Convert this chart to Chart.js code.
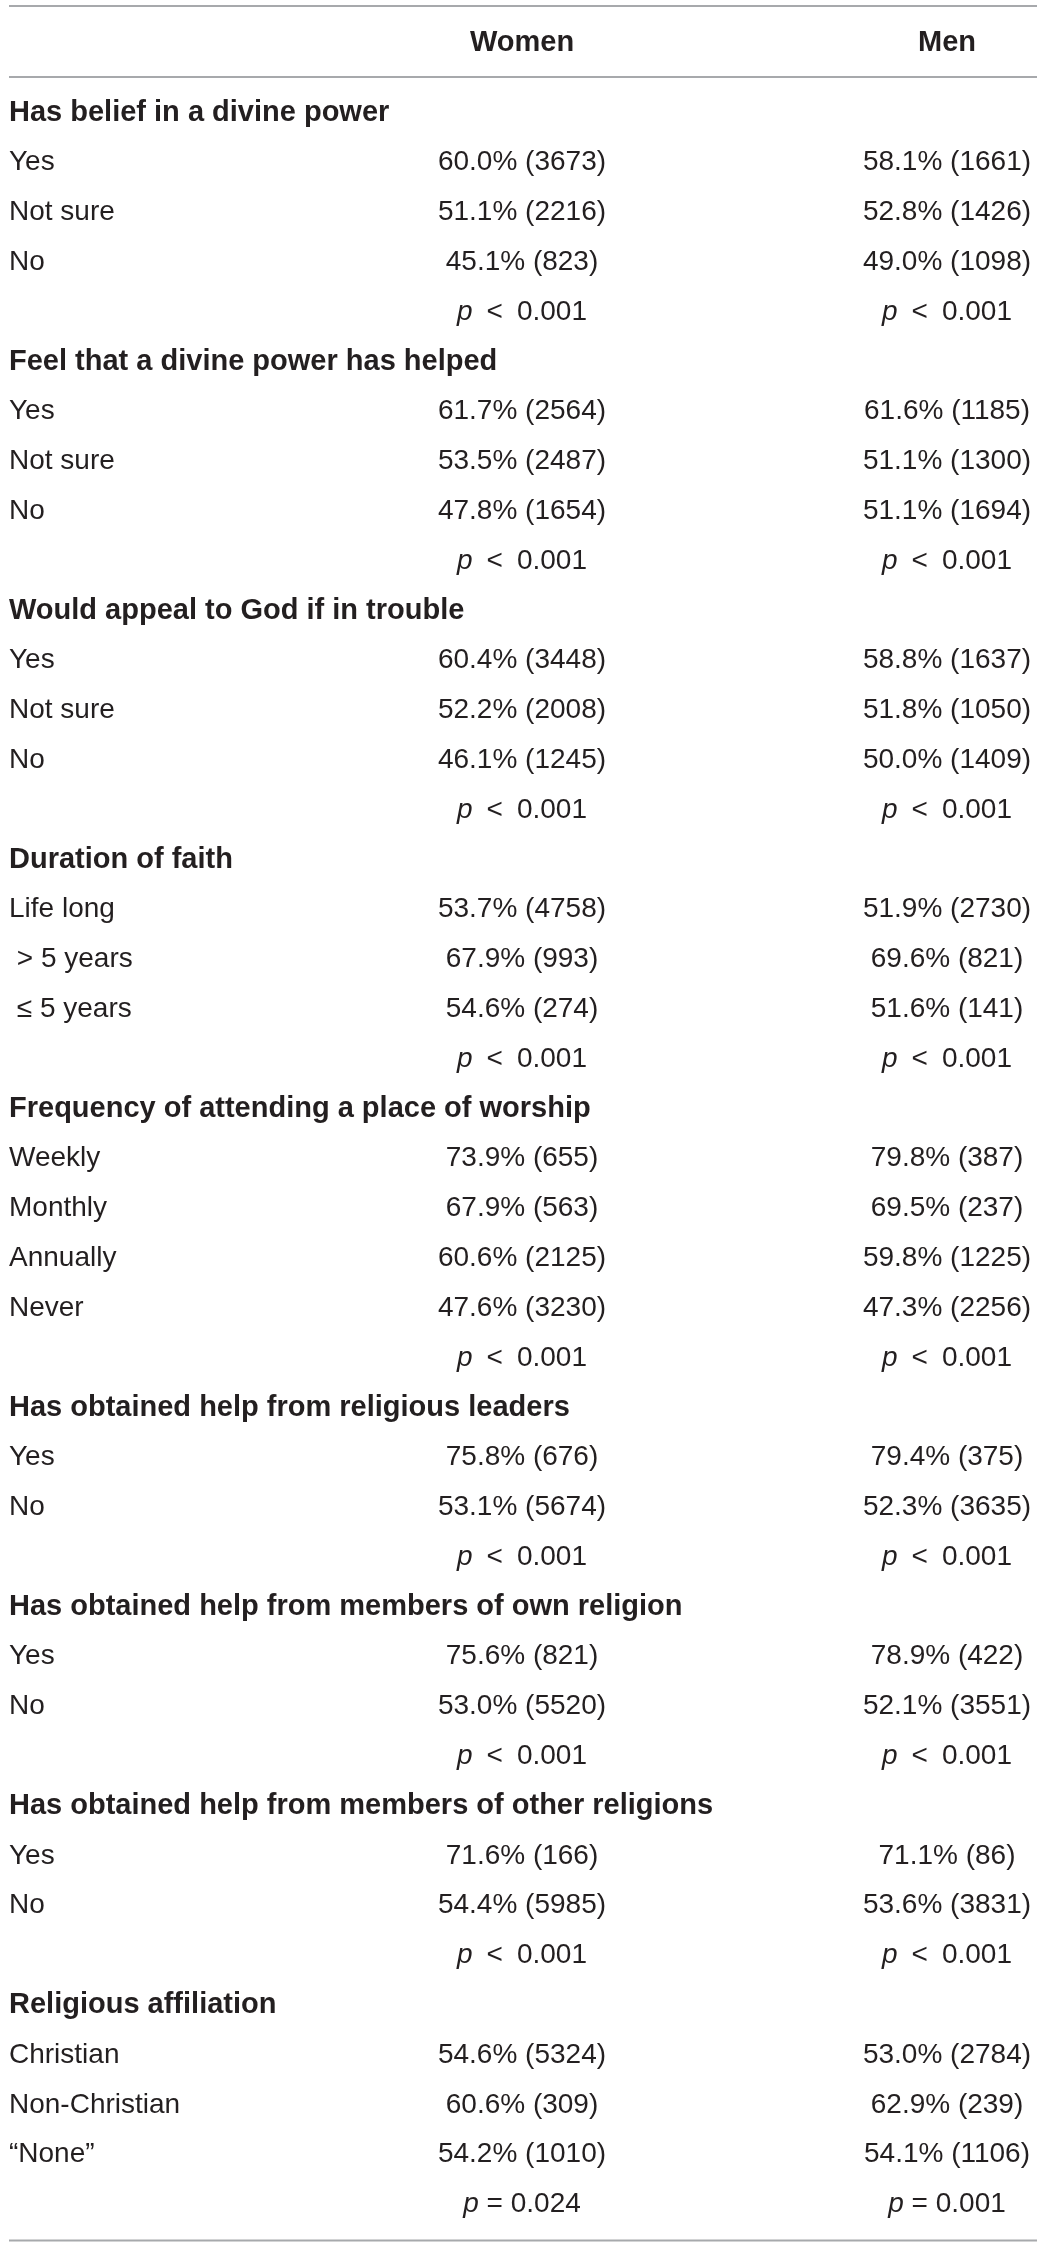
<!DOCTYPE html>
<html>
<head>
<meta charset="utf-8">
<script src="https://cdn.jsdelivr.net/npm/chart.js@4.4.1/dist/chart.umd.min.js"></script>
<style>
  html, body { margin: 0; padding: 0; background: #fff; }
  #wrap { width: 1043px; height: 2246px; position: relative; }
</style>
</head>
<body>
<div id="wrap"><canvas id="tableChart"></canvas></div>
<script>
const columns = ['Women', 'Men'];

const sections = [
  'Has belief in a divine power',
  'Feel that a divine power has helped',
  'Would appeal to God if in trouble',
  'Duration of faith',
  'Frequency of attending a place of worship',
  'Has obtained help from religious leaders',
  'Has obtained help from members of own religion',
  'Has obtained help from members of other religions',
  'Religious affiliation'
];

const categories = [
  ['Yes', 'Not sure', 'No'],
  ['Yes', 'Not sure', 'No'],
  ['Yes', 'Not sure', 'No'],
  ['Life long', ' > 5 years', ' \u2264 5 years'],
  ['Weekly', 'Monthly', 'Annually', 'Never'],
  ['Yes', 'No'],
  ['Yes', 'No'],
  ['Yes', 'No'],
  ['Christian', 'Non-Christian', '\u201CNone\u201D']
];

const womenPct = [
  [60.0, 51.1, 45.1],
  [61.7, 53.5, 47.8],
  [60.4, 52.2, 46.1],
  [53.7, 67.9, 54.6],
  [73.9, 67.9, 60.6, 47.6],
  [75.8, 53.1],
  [75.6, 53.0],
  [71.6, 54.4],
  [54.6, 60.6, 54.2]
];
const womenN = [
  [3673, 2216, 823],
  [2564, 2487, 1654],
  [3448, 2008, 1245],
  [4758, 993, 274],
  [655, 563, 2125, 3230],
  [676, 5674],
  [821, 5520],
  [166, 5985],
  [5324, 309, 1010]
];
const menPct = [
  [58.1, 52.8, 49.0],
  [61.6, 51.1, 51.1],
  [58.8, 51.8, 50.0],
  [51.9, 69.6, 51.6],
  [79.8, 69.5, 59.8, 47.3],
  [79.4, 52.3],
  [78.9, 52.1],
  [71.1, 53.6],
  [53.0, 62.9, 54.1]
];
const menN = [
  [1661, 1426, 1098],
  [1185, 1300, 1694],
  [1637, 1050, 1409],
  [2730, 821, 141],
  [387, 237, 1225, 2256],
  [375, 3635],
  [422, 3551],
  [86, 3831],
  [2784, 239, 1106]
];
const womenP = ['< 0.001', '< 0.001', '< 0.001', '< 0.001', '< 0.001', '< 0.001', '< 0.001', '< 0.001', '= 0.024'];
const menP = ['< 0.001', '< 0.001', '< 0.001', '< 0.001', '< 0.001', '< 0.001', '< 0.001', '< 0.001', '= 0.001'];

const FONT = '"Liberation Sans", Arial, Helvetica, sans-serif';
const TEXT = '#231f20';
const RULE = '#a7a9ac';

// flatten sections into table rows
const rowLabels = [];
const rowIsTitle = [];
const womenCells = [];
const menCells = [];
sections.forEach(function (title, s) {
  rowLabels.push(title);
  rowIsTitle.push(true);
  categories[s].forEach(function (cat, i) {
    const r = rowLabels.length;
    rowLabels.push(cat);
    rowIsTitle.push(false);
    womenCells.push({ x: 0, y: r, text: womenPct[s][i].toFixed(1) + '% (' + womenN[s][i] + ')' });
    menCells.push({ x: 1, y: r, text: menPct[s][i].toFixed(1) + '% (' + menN[s][i] + ')' });
  });
  const r = rowLabels.length;
  rowLabels.push('');
  rowIsTitle.push(false);
  womenCells.push({ x: 0, y: r, p: womenP[s] });
  menCells.push({ x: 1, y: r, p: menP[s] });
});

const cellText = {
  id: 'cellText',
  afterDatasetsDraw(chart) {
    const ctx = chart.ctx;
    const area = chart.chartArea;
    const yScale = chart.scales.y;
    ctx.save();
    // table rules
    ctx.strokeStyle = RULE;
    ctx.lineWidth = 2;
    [6, area.top - 11, area.bottom + 11].forEach(function (y) {
      ctx.beginPath();
      ctx.moveTo(9, y);
      ctx.lineTo(chart.width - 6, y);
      ctx.stroke();
    });
    ctx.fillStyle = TEXT;
    ctx.textBaseline = 'middle';
    // row labels, left column
    ctx.textAlign = 'left';
    rowLabels.forEach(function (label, r) {
      ctx.font = rowIsTitle[r] ? 'bold 29px ' + FONT : '28px ' + FONT;
      ctx.fillText(label, yScale.left, yScale.getPixelForValue(r));
    });
    // value cells
    chart.data.datasets.forEach(function (ds, d) {
      const meta = chart.getDatasetMeta(d);
      meta.data.forEach(function (pt, i) {
        const cell = ds.data[i];
        if (cell.text) {
          ctx.font = '28px ' + FONT;
          ctx.textAlign = 'center';
          ctx.fillText(cell.text, pt.x, pt.y);
        } else {
          const rest = cell.p[0] === '<' ? '\u2002<\u2002' + cell.p.slice(2) : ' ' + cell.p;
          ctx.font = 'italic 28px ' + FONT;
          const wp = ctx.measureText('p').width;
          ctx.font = '28px ' + FONT;
          const wr = ctx.measureText(rest).width;
          const x0 = pt.x - (wp + wr) / 2;
          ctx.textAlign = 'left';
          ctx.font = 'italic 28px ' + FONT;
          ctx.fillText('p', x0, pt.y);
          ctx.font = '28px ' + FONT;
          ctx.fillText(rest, x0 + wp, pt.y);
        }
      });
    });
    ctx.restore();
  }
};

new Chart(document.getElementById('tableChart'), {
  type: 'scatter',
  data: {
    datasets: [
      { label: 'Women', data: womenCells, parsing: false, pointRadius: 0, showLine: false },
      { label: 'Men', data: menCells, parsing: false, pointRadius: 0, showLine: false }
    ]
  },
  options: {
    responsive: true,
    maintainAspectRatio: false,
    animation: false,
    events: [],
    layout: { padding: { left: 9, right: 96, top: 0, bottom: 16.6 } },
    plugins: { legend: { display: false }, tooltip: { enabled: false } },
    scales: {
      x: {
        type: 'category',
        labels: columns,
        position: 'top',
        offset: false,
        grid: { display: false, drawTicks: false, tickLength: 0 },
        border: { display: false },
        ticks: {
          color: TEXT,
          padding: 28,
          maxRotation: 0,
          autoSkip: false,
          font: { family: FONT, size: 29, weight: 'bold' }
        },
        afterFit: function (scale) { scale.height = 88; }
      },
      y: {
        type: 'category',
        labels: rowLabels,
        offset: true,
        grid: { display: false, drawTicks: false, tickLength: 0 },
        border: { display: false },
        ticks: { display: false },
        afterFit: function (scale) { scale.width = 513; }
      }
    }
  },
  plugins: [cellText]
});
</script>
</body>
</html>
